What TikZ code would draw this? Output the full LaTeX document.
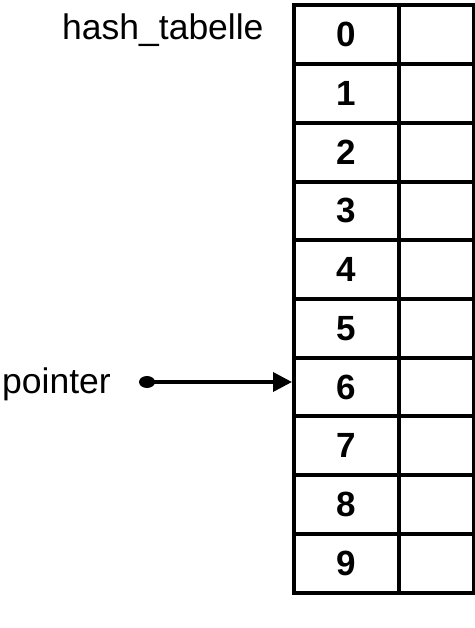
\documentclass[tikz,border=0pt]{standalone}
\usepackage{fontspec}
\setmainfont{Liberation Sans}
\usetikzlibrary{arrows.meta}
\begin{document}
\begin{tikzpicture}[x=1pt,y=-1pt,
  cell/.style={draw,line width=4pt,minimum height=58.7pt,inner sep=0pt,anchor=north west,
    font=\fontsize{35}{35}\selectfont\bfseries},
  lab/.style={font=\fontsize{35.5}{35.5}\selectfont,inner sep=0pt,anchor=base west},
  ptr/.style={line width=3.6pt,-{Triangle[length=19pt,width=19pt]}}]
\useasboundingbox (0,0) rectangle (474,628);
\foreach \i in {0,...,9}{
  \node[cell,minimum width=105pt] (c\i) at (292,{3.5+58.7*\i}) {\i};
  \node[cell,minimum width=75pt] (r\i) at (397,{3.5+58.7*\i}) {};
}
\node[lab] (title) at (62,39.5) {hash\_tabelle};
\node[lab] (plabel) at (2,393) {pointer};
\coordinate (pstart) at (147,382);
\fill (pstart) ellipse [x radius=8pt, y radius=6pt];
\draw[ptr] (pstart) -- (c6.west |- pstart);
\end{tikzpicture}
\end{document}
